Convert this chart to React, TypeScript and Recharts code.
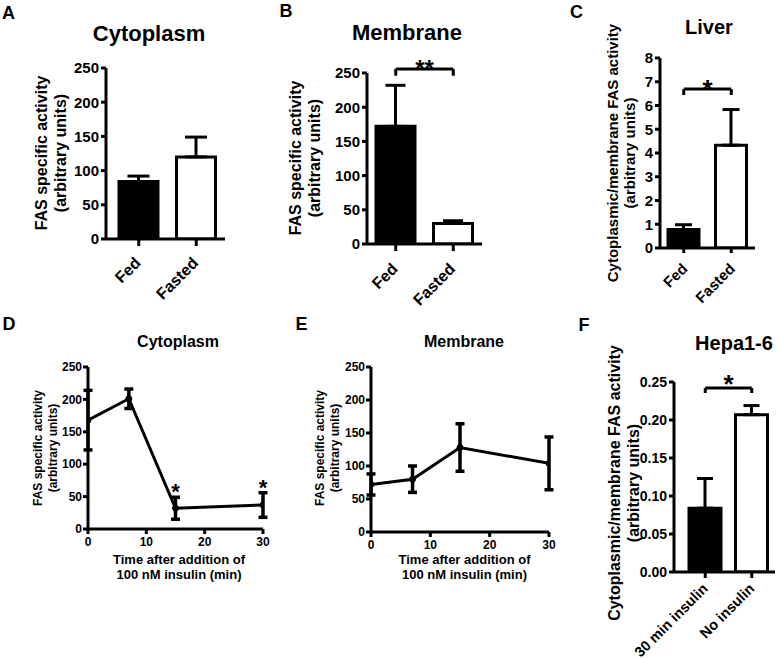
import React from 'react';
import {
  BarChart,
  Bar,
  Cell,
  XAxis,
  YAxis,
  ErrorBar,
  ReferenceLine,
  ReferenceDot,
  LineChart,
  Line,
} from 'recharts';

const FONT = '"Liberation Sans", Arial, Helvetica, sans-serif';

// ---------- data ----------
const fedFastedGroups = ['Fed', 'Fasted'];
const cytoplasmActivity = [84, 120];
const cytoplasmSem = [8, 29];
const membraneActivity = [172, 30];
const membraneSem = [60, 4];
const liverRatio = [0.78, 4.33];
const liverRatioSem = [0.2, 1.5];

const hepaGroups = ['30 min insulin', 'No insulin'];
const hepaRatio = [0.084, 0.207];
const hepaRatioSem = [0.039, 0.012];

const insulinTime = [0, 7, 15, 30];
const cytoplasmTime = [168, 201, 32, 37];
const cytoplasmTimeSem = [46, 15, 17, 19];
const cytoplasmTimeSignificant = [false, false, true, true];
const membraneTime = [72, 80, 128, 104];
const membraneTimeSem = [16, 20, 36, 40];

const activityTicks = [0, 50, 100, 150, 200, 250];
const liverTicks = [0, 1, 2, 3, 4, 5, 6, 7, 8];
const hepaTicks = [0, 0.05, 0.1, 0.15, 0.2, 0.25];
const timeTicks = [0, 10, 20, 30];
const barFills = ['#000000', '#ffffff'];

// significance brackets (data units): level, drop of the end ticks, marker
const membraneBracket = { y: 256, drop: 10, mark: '**' };
const liverBracket = { y: 6.69, drop: 0.25, mark: '*' };
const hepaBracket = { y: 0.242, drop: 0.0065, mark: '*' };

const toBars = (groups: string[], means: number[], sems: number[]) =>
  groups.map((g, i) => ({ group: g, value: means[i], err: [0, sems[i]] }));
const toPoints = (t: number[], means: number[], sems: number[], sig?: boolean[]) =>
  t.map((x, i) => ({ t: x, v: means[i], e: sems[i], sig: sig ? sig[i] : false }));

const cytoplasmBars = toBars(fedFastedGroups, cytoplasmActivity, cytoplasmSem);
const membraneBars = toBars(fedFastedGroups, membraneActivity, membraneSem);
const liverBars = toBars(fedFastedGroups, liverRatio, liverRatioSem);
const hepaBars = toBars(hepaGroups, hepaRatio, hepaRatioSem);
const cytoplasmPoints = toPoints(insulinTime, cytoplasmTime, cytoplasmTimeSem, cytoplasmTimeSignificant);
const membranePoints = toPoints(insulinTime, membraneTime, membraneTimeSem);

// ---------- helpers ----------
const Txt = ({ x, y, size, children, rotate, lh }: any) => (
  <div
    style={{
      position: 'absolute',
      left: x,
      top: y,
      transform: `translate(-50%, -50%)${rotate ? ' rotate(-90deg)' : ''}`,
      fontFamily: FONT,
      fontWeight: 700,
      fontSize: size,
      lineHeight: `${lh || size}px`,
      whiteSpace: 'nowrap',
      textAlign: 'center',
      color: '#000',
    }}
  >
    {children}
  </div>
);

const makeRotatedTick = (fontSize: number, dx: number, dy: number) => (props: any) => {
  const { x, y, payload } = props;
  const ax = x + dx;
  const ay = y + dy;
  return (
    <text
      x={ax}
      y={ay}
      dy="0.35em"
      textAnchor="end"
      transform={`rotate(-45 ${ax} ${ay})`}
      fill="#000"
      fontSize={fontSize}
      fontWeight="bold"
      fontFamily={FONT}
    >
      {payload.value}
    </text>
  );
};

const starLabel = (mark: string, fontSize: number, baselineDy: number) => (props: any) => {
  const vb = props.viewBox || {};
  const cx = (vb.x || 0) + (vb.width || 0) / 2;
  const cy = (vb.y || 0) + (vb.height || 0) / 2;
  return (
    <text
      x={cx}
      y={cy + baselineDy}
      textAnchor="middle"
      fill="#000"
      fontSize={fontSize}
      fontWeight="bold"
      fontFamily={FONT}
    >
      {mark}
    </text>
  );
};

const axisLine = { stroke: '#000', strokeWidth: 3 };
const tickLine = { stroke: '#000', strokeWidth: 3 };

type BarPanelProps = {
  left: number;
  top: number;
  width: number;
  height: number;
  mTop: number;
  mRight: number;
  yWidth: number;
  xHeight: number;
  data: any[];
  domain: [number, number];
  ticks: number[];
  fmt?: (v: number) => string;
  yFont: number;
  xFont: number;
  barSize: number;
  cap: number;
  xTickSize: number;
  xPadLeft: number;
  tickDx: number;
  tickDy: number;
  bracket?: { y: number; drop: number; mark: string };
  starSize?: number;
  starDy?: number;
};

const BarPanel = (p: BarPanelProps) => {
  const g0 = p.data[0].group;
  const g1 = p.data[1].group;
  return (
    <div style={{ position: 'absolute', left: p.left, top: p.top }}>
      <BarChart
        width={p.width}
        height={p.height}
        data={p.data}
        margin={{ top: p.mTop, right: p.mRight, left: 0, bottom: 0 }}
        barCategoryGap={0}
      >
        <XAxis
          dataKey="group"
          type="category"
          height={p.xHeight}
          axisLine={axisLine}
          tickLine={tickLine}
          tickSize={p.xTickSize}
          tickMargin={2}
          interval={0}
          padding={{ left: p.xPadLeft, right: 0 }}
          tick={makeRotatedTick(p.xFont, p.tickDx, p.tickDy)}
        />
        <YAxis
          type="number"
          width={p.yWidth}
          domain={p.domain}
          ticks={p.ticks}
          allowDataOverflow
          interval={0}
          tickFormatter={p.fmt}
          axisLine={axisLine}
          tickLine={tickLine}
          tickSize={5}
          tickMargin={2}
          tick={{ fill: '#000', fontSize: p.yFont, fontWeight: 'bold', fontFamily: FONT }}
        />
        <Bar dataKey="value" barSize={p.barSize} stroke="#000" strokeWidth={3} isAnimationActive={false}>
          {p.data.map((d, i) => (
            <Cell key={d.group} fill={barFills[i]} />
          ))}
          <ErrorBar dataKey="err" width={p.cap} stroke="#000" strokeWidth={3} direction="y" isAnimationActive={false} />
        </Bar>
        {p.bracket && (
          <ReferenceLine
            segment={[
              { x: g0, y: p.bracket.y },
              { x: g1, y: p.bracket.y },
            ]}
            stroke="#000"
            strokeWidth={3}
            ifOverflow="visible"
            label={starLabel(p.bracket.mark, p.starSize || 24, p.starDy || 0)}
          />
        )}
        {p.bracket && (
          <ReferenceLine
            segment={[
              { x: g0, y: p.bracket.y },
              { x: g0, y: p.bracket.y - p.bracket.drop },
            ]}
            stroke="#000"
            strokeWidth={3}
            ifOverflow="visible"
          />
        )}
        {p.bracket && (
          <ReferenceLine
            segment={[
              { x: g1, y: p.bracket.y },
              { x: g1, y: p.bracket.y - p.bracket.drop },
            ]}
            stroke="#000"
            strokeWidth={3}
            ifOverflow="visible"
          />
        )}
      </BarChart>
    </div>
  );
};

type LinePanelProps = {
  left: number;
  top: number;
  width: number;
  height: number;
  mTop: number;
  mRight: number;
  yWidth: number;
  xHeight: number;
  data: any[];
};

const LinePanel = (p: LinePanelProps) => (
  <div style={{ position: 'absolute', left: p.left, top: p.top }}>
    <LineChart
      width={p.width}
      height={p.height}
      data={p.data}
      margin={{ top: p.mTop, right: p.mRight, left: 0, bottom: 0 }}
    >
      <XAxis
        dataKey="t"
        type="number"
        domain={[0, 30]}
        ticks={timeTicks}
        allowDataOverflow
        interval={0}
        height={p.xHeight}
        axisLine={axisLine}
        tickLine={tickLine}
        tickSize={5}
        tickMargin={3}
        tick={{ fill: '#000', fontSize: 12, fontWeight: 'bold', fontFamily: FONT }}
      />
      <YAxis
        type="number"
        width={p.yWidth}
        domain={[0, 250]}
        ticks={activityTicks}
        allowDataOverflow
        interval={0}
        axisLine={axisLine}
        tickLine={tickLine}
        tickSize={5}
        tickMargin={1}
        tick={{ fill: '#000', fontSize: 12, fontWeight: 'bold', fontFamily: FONT }}
      />
      <Line
        dataKey="v"
        stroke="#000"
        strokeWidth={3}
        dot={{ r: 3, fill: '#000', stroke: '#000', strokeWidth: 1 }}
        isAnimationActive={false}
      >
        <ErrorBar dataKey="e" width={4.5} stroke="#000" strokeWidth={3.5} direction="y" isAnimationActive={false} />
      </Line>
      {p.data
        .filter((d) => d.sig)
        .map((d) => (
          <ReferenceDot
            key={d.t}
            x={d.t}
            y={d.v + d.e}
            r={1}
            fill="none"
            stroke="none"
            ifOverflow="visible"
            label={starLabel('*', 22, 2)}
          />
        ))}
    </LineChart>
  </div>
);

const fmt2 = (v: number) => v.toFixed(2);

export default function App() {
  return (
    <div
      style={{
        position: 'absolute',
        left: 0,
        top: 0,
        width: 779,
        height: 659,
        background: '#fff',
        overflow: 'hidden',
      }}
    >
      {/* A */}
      <BarPanel
        left={0}
        top={40}
        width={240}
        height={270}
        mTop={28}
        mRight={15}
        yWidth={106}
        xHeight={71}
        data={cytoplasmBars}
        domain={[0, 250]}
        ticks={activityTicks}
        yFont={15}
        xFont={16}
        barSize={39}
        cap={11}
        xTickSize={7}
        xPadLeft={4}
        tickDx={-1}
        tickDy={12}
      />
      {/* B */}
      <BarPanel
        left={250}
        top={40}
        width={250}
        height={270}
        mTop={33}
        mRight={18}
        yWidth={117}
        xHeight={66}
        data={membraneBars}
        domain={[0, 250]}
        ticks={activityTicks}
        yFont={15}
        xFont={16}
        barSize={39}
        cap={10}
        xTickSize={7}
        xPadLeft={0}
        tickDx={-1}
        tickDy={13}
        bracket={membraneBracket}
        starSize={24}
        starDy={8}
      />
      {/* C */}
      <BarPanel
        left={560}
        top={40}
        width={200}
        height={270}
        mTop={18}
        mRight={5}
        yWidth={100}
        xHeight={62}
        data={liverBars}
        domain={[0, 8]}
        ticks={liverTicks}
        yFont={15}
        xFont={15}
        barSize={31}
        cap={8.5}
        xTickSize={5}
        xPadLeft={0}
        tickDx={1}
        tickDy={11}
        bracket={liverBracket}
        starSize={26}
        starDy={9}
      />
      {/* D */}
      <LinePanel
        left={0}
        top={355}
        width={275}
        height={200}
        mTop={12}
        mRight={12}
        yWidth={88}
        xHeight={26}
        data={cytoplasmPoints}
      />
      {/* E */}
      <LinePanel
        left={280}
        top={355}
        width={280}
        height={200}
        mTop={12}
        mRight={11}
        yWidth={91}
        xHeight={23}
        data={membranePoints}
      />
      {/* F */}
      <BarPanel
        left={520}
        top={360}
        width={259}
        height={299}
        mTop={22}
        mRight={4}
        yWidth={154}
        xHeight={87}
        data={hepaBars}
        domain={[0, 0.25]}
        ticks={hepaTicks}
        fmt={fmt2}
        yFont={14}
        xFont={14.5}
        barSize={32}
        cap={8}
        xTickSize={6}
        xPadLeft={8}
        tickDx={0}
        tickDy={6}
        bracket={hepaBracket}
        starSize={26}
        starDy={5}
      />

      {/* panel letters */}
      <Txt x={8.5} y={12.5} size={18}>A</Txt>
      <Txt x={286} y={11} size={18}>B</Txt>
      <Txt x={576.5} y={11.5} size={18}>C</Txt>
      <Txt x={9} y={323.5} size={18}>D</Txt>
      <Txt x={301.5} y={324} size={18}>E</Txt>
      <Txt x={584} y={325} size={18}>F</Txt>

      {/* titles */}
      <Txt x={149} y={34} size={22}>Cytoplasm</Txt>
      <Txt x={407} y={32.5} size={22}>Membrane</Txt>
      <Txt x={709} y={26.5} size={20}>Liver</Txt>
      <Txt x={178} y={342} size={16}>Cytoplasm</Txt>
      <Txt x={464} y={341.5} size={16}>Membrane</Txt>
      <Txt x={734} y={342.5} size={20}>Hepa1-6</Txt>

      {/* y-axis titles */}
      <Txt x={51} y={153} size={16} lh={19} rotate>
        FAS specific activity
        <br />
        (arbitrary units)
      </Txt>
      <Txt x={304.5} y={158} size={16} lh={19} rotate>
        FAS specific activity
        <br />
        (arbitrary units)
      </Txt>
      <Txt x={620.5} y={152.5} size={15} lh={17} rotate>
        Cytoplasmic/membrane FAS activity
        <br />
        (arbitrary units)
      </Txt>
      <Txt x={45} y={447.5} size={12} lh={14.5} rotate>
        FAS specific activity
        <br />
        (arbitrary units)
      </Txt>
      <Txt x={327} y={447.5} size={12} lh={14.5} rotate>
        FAS specific activity
        <br />
        (arbitrary units)
      </Txt>
      <Txt x={624} y={483} size={16} lh={19} rotate>
        Cytoplasmic/membrane FAS activity
        <br />
        (arbitrary units)
      </Txt>

      {/* x-axis titles for D and E */}
      <Txt x={179} y={566.5} size={13} lh={15}>
        Time after addition of
        <br />
        100 nM insulin (min)
      </Txt>
      <Txt x={464.5} y={566.5} size={13} lh={15}>
        Time after addition of
        <br />
        100 nM insulin (min)
      </Txt>
    </div>
  );
}
